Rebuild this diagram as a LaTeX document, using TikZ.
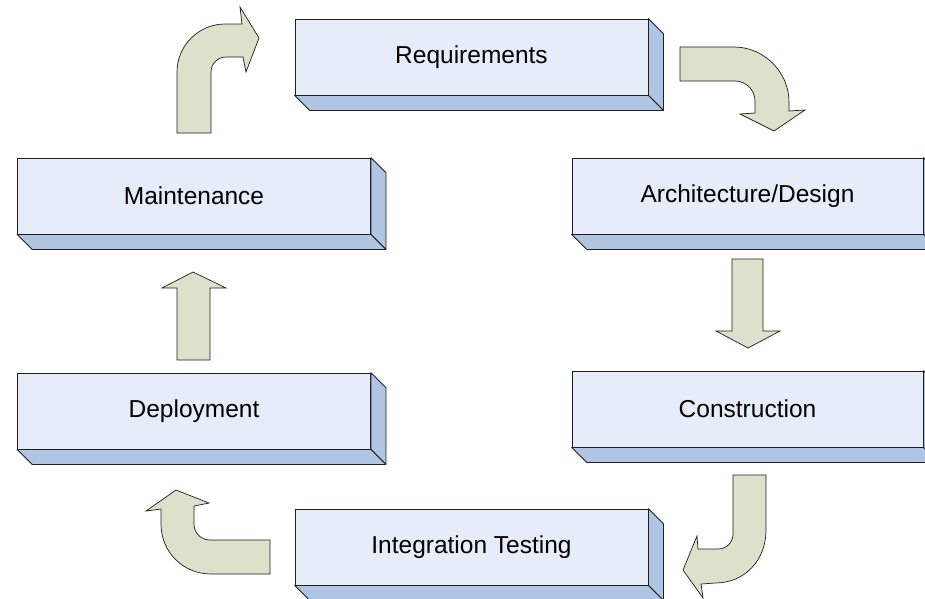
\documentclass[tikz,border=0pt]{standalone}
\usepackage{fontspec}
\setmainfont{Liberation Sans}
\usetikzlibrary{calc}

\definecolor{facefill}{RGB}{230,237,248}
\definecolor{sidefill}{RGB}{176,197,227}
\definecolor{arrowfill}{RGB}{221,224,203}
\definecolor{edge}{RGB}{30,30,30}

\tikzset{
  face/.style={draw=edge, line width=0.8pt, fill=facefill, minimum width=353,
    minimum height=76, inner sep=0pt, text=black,
    font=\fontsize{24.5}{29}\selectfont},
  depthface/.style={draw=edge, line width=0.8pt, fill=sidefill, line join=round},
  blockarrow/.style={draw=edge, line width=0.7pt, fill=arrowfill, line join=miter},
}

% extruded stage box: front face node plus right and bottom faces
\newcommand{\stagebox}[4][353]{%
  \node[face, minimum width=#1] (#2) at (#3) {#4};
  \fill[depthface] (#2.north east) -- ++(15,15) -- ($(#2.south east)+(15,15)$)
    -- (#2.south east) -- cycle;
  \fill[depthface] (#2.south west) -- (#2.south east) -- ++(15,15)
    -- ($(#2.south west)+(15,15)$) -- cycle;
}

\begin{document}
\begin{tikzpicture}[x=1pt, y=-1pt]
  \useasboundingbox (0,0) rectangle (925,598);
  \clip (0,0) rectangle (925,598);

  % stages
  \stagebox{req}{471.5,57}{Requirements}
  \stagebox[351]{arch}{747.5,196}{Architecture/Design}
  \stagebox[351]{constr}{747.5,409}{Construction}
  \stagebox{integ}{471.5,547}{Integration Testing}
  \stagebox{deploy}{194,411}{Deployment}
  \stagebox{maint}{194,196}{Maintenance}

  % Requirements -> Architecture/Design (right, then down)
  \draw[blockarrow] (680,47) -- (734,47) .. controls (764,47) and (789,72) .. (789,102)
    -- (789,111) -- (805,110) -- (774,131) -- (740,114) -- (755,113) -- (755,101)
    .. controls (755,90) and (746,81) .. (735,81) -- (680,81) -- cycle;

  % Architecture/Design -> Construction (down)
  \draw[blockarrow] (732,259) -- (763,259) -- (763,331) -- (780,331) -- (748,348)
    -- (716,331) -- (732,331) -- cycle;

  % Construction -> Integration Testing (down, then left)
  \draw[blockarrow] (733,475) -- (766,475) -- (766,530)
    .. controls (766,560) and (745,583) .. (715,583) -- (701,584) -- (703,598)
    -- (683,570) -- (697,536) -- (698,549) -- (718,549)
    .. controls (726,549) and (733,543) .. (733,534) -- cycle;

  % Integration Testing -> Deployment (left, then up)
  \draw[blockarrow] (270,540) -- (210,540) .. controls (201,540) and (194,533) .. (194,524)
    -- (194,506) -- (209,503) -- (176,490) -- (146,511) -- (161,509) -- (161,524)
    .. controls (161,552) and (183,574) .. (211,574) -- (270,574) -- cycle;

  % Deployment -> Maintenance (up)
  \draw[blockarrow] (177,360) -- (177,288) -- (162,288) -- (193,272) -- (226,288)
    -- (210,288) -- (210,360) -- cycle;

  % Maintenance -> Requirements (up, then right)
  \draw[blockarrow] (177,133) -- (177,72) .. controls (177,45.6) and (198.6,24) .. (225,24)
    -- (242,24) -- (240,7) -- (259,38) -- (246,72) -- (243,57) -- (226,57)
    .. controls (217.75,57) and (211,63.75) .. (211,72) -- (211,133) -- cycle;
\end{tikzpicture}
\end{document}
